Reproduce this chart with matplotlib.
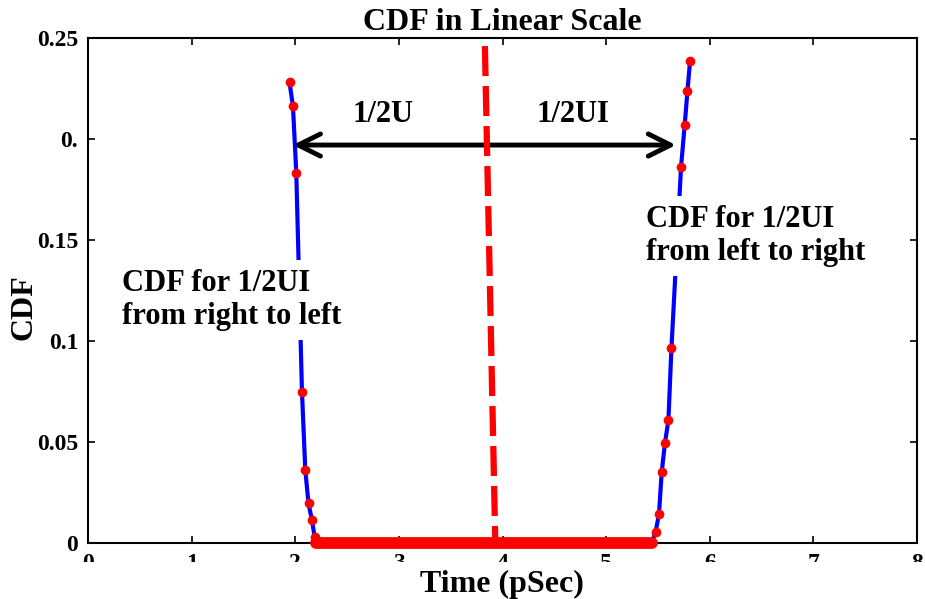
import matplotlib.pyplot as plt
from matplotlib.patches import Rectangle
import numpy as np

plt.rcParams['font.family'] = ['Liberation Serif', 'DejaVu Serif']
plt.rcParams['font.weight'] = 'bold'

# CDF from right to left (left edge of the eye)
left_t = [1.945, 1.978, 2.010, 2.065, 2.097, 2.128, 2.161, 2.187, 2.20]
left_cdf = [0.228, 0.2162, 0.1833, 0.0749, 0.0361, 0.0196, 0.0114, 0.0031, 0.0]

# CDF from left to right (right edge of the eye)
right_t = [5.44, 5.478, 5.510, 5.536, 5.568, 5.601, 5.630, 5.723, 5.758, 5.785, 5.810]
right_cdf = [0.0, 0.0056, 0.0144, 0.0350, 0.0496, 0.0609, 0.0964, 0.1863, 0.2069, 0.2239, 0.2387]

# the flat zero part between the two edges
zero_t = [2.20, 5.44]
zero_cdf = [0.0, 0.0]

# eye centre marker
center_t = [3.83, 3.93]
center_cdf = [0.246, 0.0015]

# arrow ends
arrow_t = [1.95, 5.70]
arrow_y = 0.197

xticks = [0, 1, 2, 3, 4, 5, 6, 7, 8]
yticks = [0, 0.05, 0.1, 0.15, 0.2, 0.25]
ytick_labels = ['0', '0.05', '0.1', '0.15', '0.', '0.25']

fig = plt.figure(figsize=(9.25, 5.99), dpi=100)
ax = fig.add_axes([0.0951, 0.0935, 0.8963, 0.8431])

ax.plot(left_t, left_cdf, color='blue', lw=3, zorder=2)
ax.plot(right_t, right_cdf, color='blue', lw=3, zorder=2)
ax.plot(left_t[:-1], left_cdf[:-1], 'o', color='red', ms=7, mec='none', zorder=3)
ax.plot(right_t[1:], right_cdf[1:], 'o', color='red', ms=7, mec='none', zorder=3)
ax.plot(zero_t, zero_cdf, color='red', lw=8.5, solid_capstyle='round', zorder=3,
        clip_on=False)

ax.annotate('', xy=(arrow_t[0], arrow_y), xytext=(arrow_t[1], arrow_y),
            arrowprops=dict(arrowstyle='<->', color='black', lw=3.5, mutation_scale=40),
            zorder=4)
ax.plot(center_t, center_cdf, color='red', lw=4.5, dashes=(4.8, 1.6), zorder=5)

ax.text(2.85, 0.212, '1/2U', fontsize=22, fontweight='bold', ha='center', va='center')
ax.text(4.68, 0.212, '1/2UI', fontsize=22, fontweight='bold', ha='center', va='center')

ax.text(0.33, 0.1203, 'CDF for 1/2UI\nfrom right to left', fontsize=22, fontweight='bold',
        ha='left', va='center', linespacing=1.15, zorder=6,
        bbox=dict(facecolor='white', edgecolor='none', pad=7))
ax.text(5.38, 0.152, 'CDF for 1/2UI\nfrom left to right', fontsize=22, fontweight='bold',
        ha='left', va='center', linespacing=1.15, zorder=6,
        bbox=dict(facecolor='white', edgecolor='none', pad=7))

ax.set_xlim(0, 8)
ax.set_ylim(0, 0.25)
ax.set_xticks(xticks)
ax.set_yticks(yticks)
ax.set_yticklabels(ytick_labels)
ax.tick_params(direction='in', length=5, width=1.2, top=True, right=True,
               labelsize=17, pad=7)
for lab in ax.get_xticklabels() + ax.get_yticklabels():
    lab.set_fontweight('bold')
for sp in ax.spines.values():
    sp.set_linewidth(1.5)

ax.set_title('CDF in Linear Scale', fontsize=23, fontweight='bold', pad=6)
ax.set_ylabel('CDF', fontsize=23, fontweight='bold')
ax.yaxis.set_label_coords(-0.060, 0.467)

# lower strip hides the bottom of the x tick labels, as in the scan
fig.add_artist(Rectangle((0, 0), 1, 0.062, transform=fig.transFigure,
                         facecolor='white', edgecolor='none', zorder=5))
fig.text(0.543, 0.0, 'Time (pSec)', fontsize=23, fontweight='bold',
         ha='center', va='bottom', zorder=6)

fig.savefig('out.png', dpi=100)
